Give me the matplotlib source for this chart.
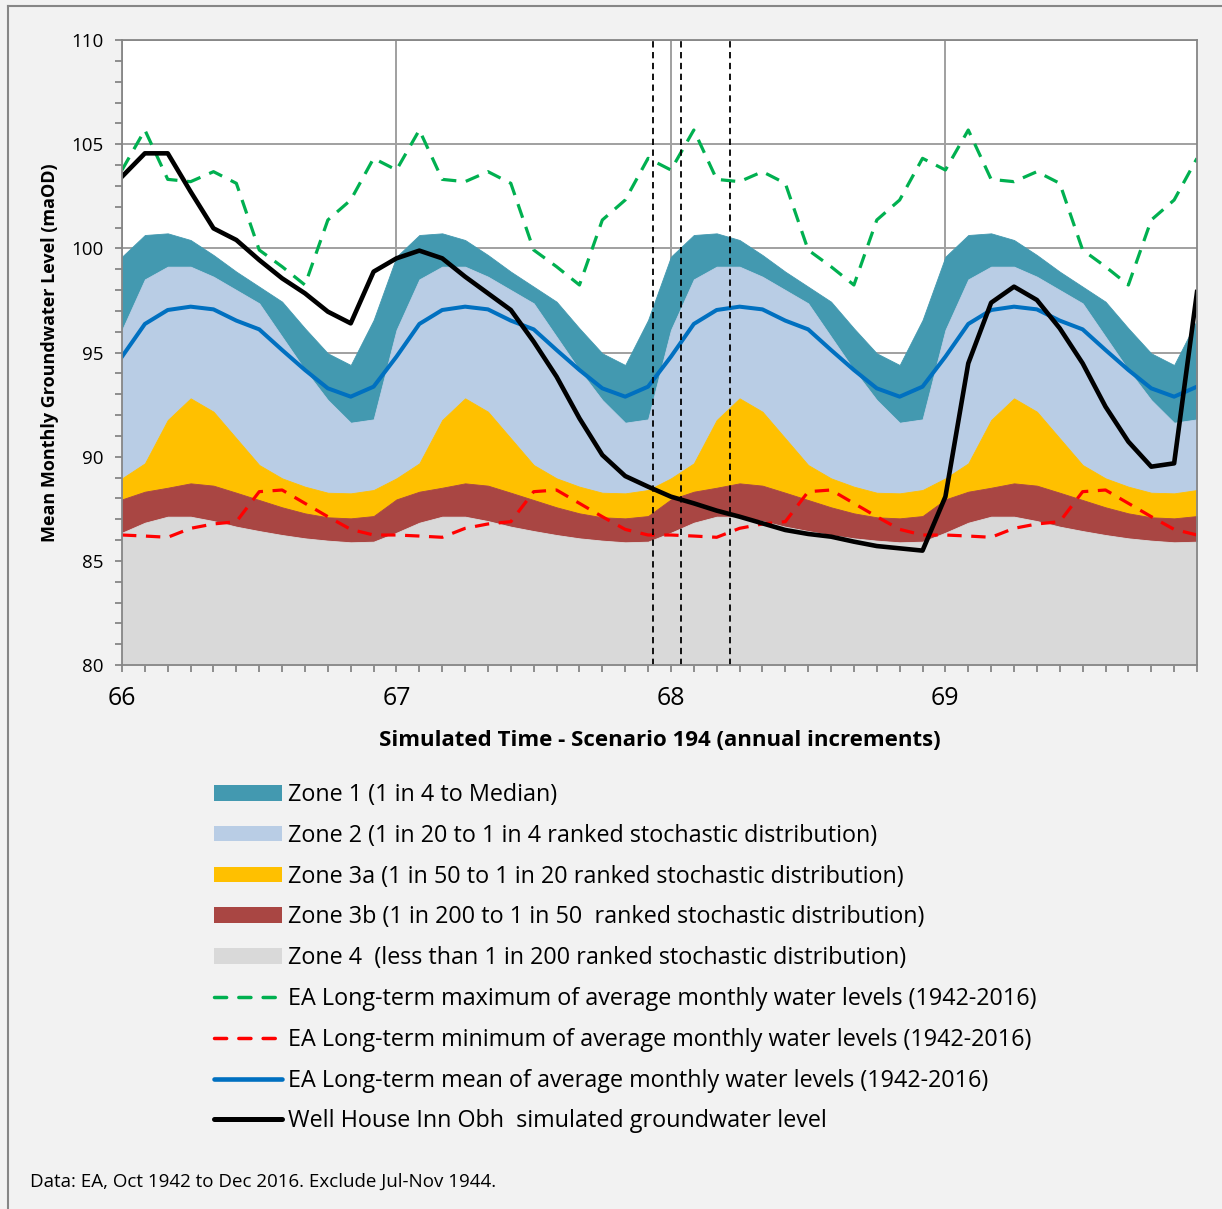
import numpy as np
import matplotlib.pyplot as plt
from matplotlib.ticker import MultipleLocator
from matplotlib.patches import Patch
from matplotlib.lines import Line2D

plt.rcParams['font.family'] = ['Open Sans', 'DejaVu Sans']

# monthly values for one year (the zones repeat every year)
zone1_top = [99.6, 100.64, 100.72, 100.4, 99.68, 98.88, 98.16, 97.44, 96.16, 94.96, 94.4, 96.56]
zone2_top = [96.08, 98.51, 99.12, 99.12, 98.64, 98.0, 97.36, 95.76, 94.16, 92.72, 91.63, 91.79]
zone3a_top = [88.96, 89.68, 91.76, 92.8, 92.16, 90.88, 89.6, 88.96, 88.56, 88.27, 88.24, 88.4]
zone3b_top = [87.95, 88.32, 88.51, 88.72, 88.61, 88.27, 87.92, 87.57, 87.28, 87.09, 87.04, 87.15]
zone4_top = [86.35, 86.83, 87.12, 87.12, 86.91, 86.64, 86.43, 86.24, 86.08, 85.97, 85.89, 85.92]
lt_max = [103.76, 105.68, 103.31, 103.2, 103.68, 103.12, 99.92, 99.12, 98.24, 101.36, 102.32, 104.32]
lt_min = [86.24, 86.19, 86.13, 86.56, 86.77, 86.88, 88.32, 88.4, 87.76, 87.12, 86.51, 86.24]
lt_mean = [94.8, 96.37, 97.04, 97.2, 97.07, 96.53, 96.11, 95.12, 94.16, 93.28, 92.88, 93.36]

# simulated groundwater level, 48 months from year 66
simulated = [103.44, 104.56, 104.56, 102.72, 100.96, 100.4, 99.44, 98.56, 97.84, 96.96, 96.4, 98.88,
             99.52, 99.89, 99.52, 98.64, 97.84, 97.04, 95.52, 93.84, 91.84, 90.08, 89.07, 88.56,
             88.08, 87.76, 87.41, 87.12, 86.8, 86.48, 86.29, 86.16, 85.92, 85.71, 85.6, 85.49,
             88.08, 94.48, 97.39, 98.16, 97.52, 96.16, 94.48, 92.4, 90.72, 89.52, 89.68, 97.9]

years = [66, 67, 68, 69]
marker_years = [67.935, 68.036, 68.215]   # vertical dashed markers

zone_labels = ['Zone 1 (1 in 4 to Median)',
               'Zone 2 (1 in 20 to 1 in 4 ranked stochastic distribution)',
               'Zone 3a (1 in 50 to 1 in 20 ranked stochastic distribution)',
               'Zone 3b (1 in 200 to 1 in 50  ranked stochastic distribution)',
               'Zone 4  (less than 1 in 200 ranked stochastic distribution)']
line_labels = ['EA Long-term maximum of average monthly water levels (1942-2016)',
               'EA Long-term minimum of average monthly water levels (1942-2016)',
               'EA Long-term mean of average monthly water levels (1942-2016)',
               'Well House Inn Obh  simulated groundwater level']

zone_colors = ['#4399B0', '#B9CDE5', '#FFC000', '#A94643', '#D9D9D9']
grid_col = '#a0a0a0'
spine_col = '#868686'

n = len(simulated)
x = years[0] + np.arange(n) / 12.0
nyr = n // 12
z1 = np.tile(zone1_top, nyr)
z2 = np.tile(zone2_top, nyr)
z3a = np.tile(zone3a_top, nyr)
z3b = np.tile(zone3b_top, nyr)
z4 = np.tile(zone4_top, nyr)
mx = np.tile(lt_max, nyr)
mn = np.tile(lt_min, nyr)
me = np.tile(lt_mean, nyr)

fig = plt.figure(figsize=(12.22, 12.09), dpi=100, facecolor='#f2f2f2')
ax = fig.add_axes([122/1222, 1 - 665/1209, 1075/1222, 625/1209])
ax.set_facecolor('white')

# stacked zones
bounds = [z1, z2, z3a, z3b, z4, np.full(n, 80.0)]
for k in range(5):
    ax.fill_between(x, bounds[k+1], bounds[k], facecolor=zone_colors[k],
                    edgecolor=zone_colors[k], linewidth=0.6, zorder=2)

dash = (0, (4.5, 3))
ax.plot(x, mx, color='#00B050', lw=2.3, ls=dash, zorder=3)
ax.plot(x, mn, color='#FF0000', lw=2.3, ls=dash, zorder=3)
ax.plot(x, me, color='#0070C0', lw=2.9, zorder=4, solid_joinstyle='round')
ax.plot(x, simulated, color='black', lw=3.3, zorder=5, solid_joinstyle='round')

for xm in marker_years:
    ax.axvline(xm, color='black', lw=1.3, ls=(0, (3.5, 2.5)), zorder=6)

ax.set_xlim(x[0], x[-1])
ax.set_ylim(80, 110)
ax.set_xticks(years)
ax.set_xticks(x, minor=True)
ax.yaxis.set_major_locator(MultipleLocator(5))
ax.yaxis.set_minor_locator(MultipleLocator(1))
ax.grid(True, which='major', color=grid_col, lw=1.4, zorder=1)
ax.set_axisbelow(True)
for s in ax.spines.values():
    s.set_color(spine_col)
    s.set_linewidth(1.3)
    s.set_zorder(7)
ax.tick_params(which='both', direction='out', length=5, width=1.3, color=spine_col)
ax.tick_params(axis='x', labelsize=18, pad=10)
ax.tick_params(axis='y', labelsize=13.5, pad=8)

ax.set_xlabel('Simulated Time - Scenario 194 (annual increments)', fontsize=16, fontweight='bold',
              va='center')
ax.xaxis.set_label_coords(0.5, -0.12)
ax.set_ylabel('Mean Monthly Groundwater Level (maOD)', fontsize=13, fontweight='bold',
              va='center')
ax.yaxis.set_label_coords(-0.067, 0.5)

# legend
handles = [Patch(facecolor=c, edgecolor='none') for c in zone_colors]
handles += [Line2D([], [], color='#00B050', lw=2.5, ls=(0, (3.5, 3.5)), dash_capstyle='round'),
            Line2D([], [], color='#FF0000', lw=2.5, ls=(0, (3.5, 3.5)), dash_capstyle='round'),
            Line2D([], [], color='#0070C0', lw=3.3, solid_capstyle='round'),
            Line2D([], [], color='black', lw=3.6, solid_capstyle='round')]
fig.legend(handles, zone_labels + line_labels, loc='upper left',
           bbox_to_anchor=(214/1222, 1 - 783/1209), frameon=False, fontsize=16.8,
           handlelength=2.91, handleheight=0.64, handletextpad=0.26, labelspacing=0.72,
           borderpad=0, borderaxespad=0)

fig.text(30/1222, 1 - 1182/1209, 'Data: EA, Oct 1942 to Dec 2016. Exclude Jul-Nov 1944.',
         fontsize=13.5, va='center', ha='left')

# outer chart border (top and left)
fig.add_artist(Line2D([8/1222, 1], [1 - 5.5/1209, 1 - 5.5/1209], color=spine_col, lw=1.5))
fig.add_artist(Line2D([8/1222, 8/1222], [0, 1 - 5.5/1209], color=spine_col, lw=1.5))

fig.savefig('out.png', dpi=100, facecolor=fig.get_facecolor())
